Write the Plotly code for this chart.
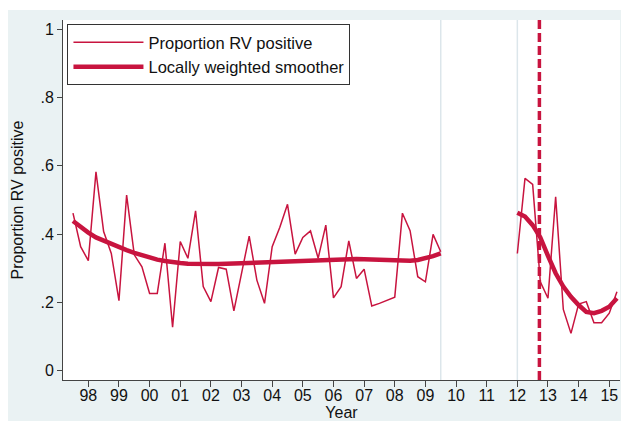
import plotly.graph_objects as go

# ---- data ----
years1 = [1997.5, 1997.75, 1998.0, 1998.25, 1998.5, 1998.75, 1999.0, 1999.25, 1999.5, 1999.75,
          2000.0, 2000.25, 2000.5, 2000.75, 2001.0, 2001.25, 2001.5, 2001.75, 2002.0, 2002.25,
          2002.5, 2002.75, 2003.0, 2003.25, 2003.5, 2003.75, 2004.0, 2004.25, 2004.5, 2004.75,
          2005.0, 2005.25, 2005.5, 2005.75, 2006.0, 2006.25, 2006.5, 2006.75, 2007.0, 2007.25,
          2007.5, 2007.75, 2008.0, 2008.25, 2008.5, 2008.75, 2009.0, 2009.25, 2009.5]
prop1 = [0.461, 0.363, 0.322, 0.582, 0.407, 0.343, 0.205, 0.514, 0.339, 0.304,
         0.226, 0.226, 0.373, 0.127, 0.378, 0.329, 0.468, 0.246, 0.202, 0.302,
         0.297, 0.175, 0.285, 0.394, 0.265, 0.197, 0.363, 0.420, 0.487, 0.341,
         0.390, 0.409, 0.329, 0.426, 0.213, 0.246, 0.380, 0.270, 0.297, 0.189,
         0.197, 0.206, 0.215, 0.461, 0.410, 0.275, 0.260, 0.399, 0.348]
smooth1 = [0.438, 0.420, 0.404, 0.390, 0.380, 0.370, 0.361, 0.353, 0.345, 0.338,
           0.331, 0.325, 0.321, 0.317, 0.315, 0.313, 0.312, 0.312, 0.312, 0.312,
           0.313, 0.314, 0.315, 0.316, 0.317, 0.318, 0.318, 0.319, 0.320, 0.321,
           0.322, 0.323, 0.324, 0.325, 0.326, 0.327, 0.327, 0.327, 0.326, 0.325,
           0.324, 0.323, 0.322, 0.322, 0.322, 0.324, 0.328, 0.335, 0.343]

years2 = [2012.0, 2012.25, 2012.5, 2012.75, 2013.0, 2013.25, 2013.5, 2013.75,
          2014.0, 2014.25, 2014.5, 2014.75, 2015.0, 2015.25]
prop2 = [0.343, 0.563, 0.545, 0.260, 0.212, 0.509, 0.179, 0.109,
         0.195, 0.202, 0.140, 0.140, 0.168, 0.231]
smooth2 = [0.462, 0.451, 0.426, 0.390, 0.336, 0.285, 0.246, 0.216,
           0.192, 0.172, 0.168, 0.175, 0.187, 0.212]

gray_lines = [2009.5, 2012.0]
event_line = 2012.72

x_ticks = list(range(1998, 2016))
x_labels = ["98", "99", "00", "01", "02", "03", "04", "05", "06", "07", "08", "09",
            "10", "11", "12", "13", "14", "15"]
y_ticks = [0, 0.2, 0.4, 0.6, 0.8, 1]
y_labels = ["0", ".2", ".4", ".6", ".8", "1"]

RED = "#C8143F"
FONT = "Liberation Sans, Arial, sans-serif"

xs = years1 + [None] + years2
fig = go.Figure()
fig.add_trace(go.Scatter(x=xs, y=prop1 + [None] + prop2, mode="lines",
                         name="Proportion RV positive",
                         line=dict(color=RED, width=1.5), connectgaps=False))
fig.add_trace(go.Scatter(x=xs, y=smooth1 + [None] + smooth2, mode="lines",
                         name="Locally weighted smoother",
                         line=dict(color=RED, width=4.5), connectgaps=False))

PLOT_W = 621 - 63 - 1
PLOT_H = 421 - 20 - 41
shapes = [
    # light graph region starting a few pixels inside the picture
    dict(type="rect", xref="paper", yref="paper",
         x0=(8 - 63) / PLOT_W, x1=1.05, y0=-0.2, y1=(380 - 10) / PLOT_H,
         fillcolor="#EAF2F3", line=dict(width=0), layer="below"),
    dict(type="rect", xref="paper", yref="paper", x0=0, x1=1, y0=0, y1=1,
         fillcolor="white", line=dict(width=0), layer="below"),
]
for gx in gray_lines:
    shapes.append(dict(type="line", xref="x", yref="paper", x0=gx, x1=gx, y0=0, y1=1,
                       line=dict(color="#DCE6EB", width=1.5), layer="below"))
shapes.append(dict(type="line", xref="x", yref="paper", x0=event_line, x1=event_line, y0=0, y1=1,
                   line=dict(color=RED, width=3.5, dash="9px,4px"), layer="below"))

fig.update_layout(
    width=621, height=421, autosize=False,
    margin=dict(l=63, r=1, t=20, b=41),
    paper_bgcolor="white", plot_bgcolor="white",
    font=dict(family=FONT, size=16, color="#111111"),
    shapes=shapes,
    showlegend=True,
    legend=dict(x=0.008, y=0.989, xanchor="left", yanchor="top",
                bgcolor="white", bordercolor="#333333", borderwidth=1,
                font=dict(family=FONT, size=16.5, color="#111111"),
                itemwidth=70, tracegroupgap=0),
    xaxis=dict(range=[1997.174, 2015.35], tickmode="array", tickvals=x_ticks, ticktext=x_labels,
               ticks="outside", ticklen=6, tickcolor="#444444", showline=True, linecolor="#444444",
               linewidth=1, showgrid=False, zeroline=False, automargin=False,
               ticklabelstandoff=-5,
               title=dict(text="Year", font=dict(size=16), standoff=0),
               tickfont=dict(size=16)),
    yaxis=dict(range=[-0.0275, 1.0267], tickmode="array", tickvals=y_ticks, ticktext=y_labels,
               ticks="outside", ticklen=5, tickcolor="#444444", showline=True, linecolor="#444444",
               linewidth=1, showgrid=False, zeroline=False, automargin=False,
               title=dict(text="Proportion RV positive", font=dict(size=16), standoff=12),
               tickfont=dict(size=16)),
)

fig.write_html("out.html", config={"displayModeBar": False},
               post_script="document.body.style.margin='0px';")
